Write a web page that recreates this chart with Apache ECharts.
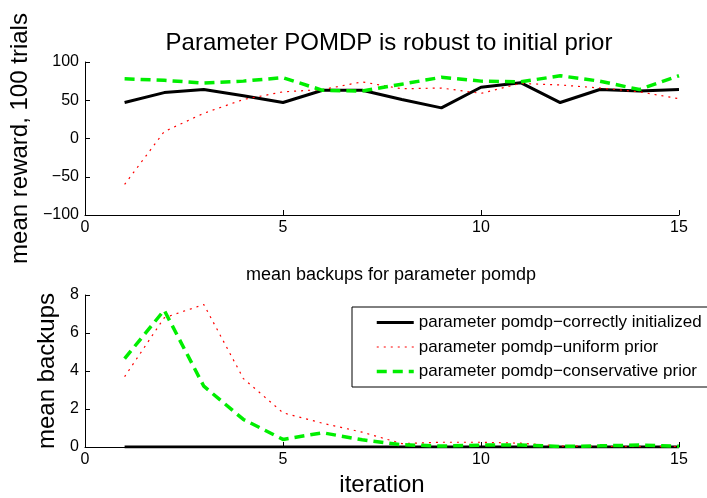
<!DOCTYPE html>
<html>
<head>
<meta charset="utf-8">
<script src="https://cdn.jsdelivr.net/npm/echarts@6/dist/echarts.min.js"></script>
<style>html,body{margin:0;padding:0;background:#fff}#c{width:707px;height:498px}</style>
</head>
<body>
<div id="c"></div>
<script>
const iterations = [1,2,3,4,5,6,7,8,9,10,11,12,13,14,15];
const seriesNames = ['parameter pomdp\u2212correctly initialized','parameter pomdp\u2212uniform prior','parameter pomdp\u2212conservative prior'];
const rewardCorrect = [47, 60, 64, 56, 47, 63, 63, 51, 40, 67, 73, 47, 64, 62, 64];
const rewardUniform = [-60, 9, 33, 51, 61, 64, 74, 65, 66, 59, 72, 70, 66, 61, 52];
const rewardConservative = [78, 76, 72.5, 75, 79.5, 63, 62, 71, 80, 75, 74, 82, 75, 64, 82];
const backupsCorrect = [0,0,0,0,0,0,0,0,0,0,0,0,0,0,0];
const backupsUniform = [3.7, 6.8, 7.5, 3.6, 1.8, 1.25, 0.78, 0.18, 0.25, 0.25, 0.2, 0.05, 0.03, 0.02, 0.02];
const backupsConservative = [4.65, 7.2, 3.2, 1.45, 0.4, 0.75, 0.38, 0.12, 0.05, 0.1, 0.1, 0.03, 0.06, 0.1, 0.04];

const FONT = "'Liberation Sans', Arial, sans-serif";
const pairs = (ys) => iterations.map((x, i) => [x, ys[i]]);
const minusFmt = (v) => String(v).replace('-', '\u2212');

const styles = [
  {color:'#000000', width:3, type:'solid'},
  {color:'#ff0000', width:1.2, type:[2,5]},
  {color:'#00ee00', width:3.5, type:[10,6]}
];

function xAxis(gi){
  return {
    type:'value', gridIndex:gi, min:0, max:15, interval:5,
    axisLine:{show:true, onZero:false, lineStyle:{color:'#000', width:1}},
    axisTick:{show:true, inside:true, length:5, lineStyle:{color:'#000'}},
    splitLine:{show:false},
    axisLabel:{color:'#000', fontSize:16, fontFamily:FONT, margin:5, formatter:minusFmt},
    name: gi === 1 ? 'iteration' : '',
    nameLocation:'middle', nameGap:26,
    nameTextStyle:{color:'#000', fontSize:24, fontFamily:FONT}
  };
}
function yAxis(gi, min, max, interval, name, gap){
  return {
    type:'value', gridIndex:gi, min:min, max:max, interval:interval,
    axisLine:{show:true, onZero:false, lineStyle:{color:'#000', width:1}},
    axisTick:{show:true, inside:true, length:5, lineStyle:{color:'#000'}},
    splitLine:{show:false},
    axisLabel:{color:'#000', fontSize:16, fontFamily:FONT, margin:6, formatter:minusFmt},
    name:name, nameLocation:'middle', nameGap:gap, nameRotate:90,
    nameTextStyle:{color:'#000', fontSize:24, fontFamily:FONT}
  };
}
function line(name, data, gi, st){
  return {
    type:'line', name:name, xAxisIndex:gi, yAxisIndex:gi, data:pairs(data),
    symbol:'none', silent:true, animation:false,
    lineStyle:{color:st.color, width:st.width, type:st.type},
    itemStyle:{color:st.color}
  };
}

const chart = echarts.init(document.getElementById('c'), null, {renderer:'canvas'});
chart.setOption({
  backgroundColor:'#fff',
  animation:false,
  title:[
    {text:'Parameter POMDP is robust to initial prior', left:384, top:26, textAlign:'center',
     textStyle:{color:'#000', fontSize:24, fontWeight:'normal', fontFamily:FONT}},
    {text:'mean backups for parameter pomdp', left:386, top:261, textAlign:'center',
     textStyle:{color:'#000', fontSize:18, fontWeight:'normal', fontFamily:FONT}}
  ],
  grid:[
    {left:85, right:28, top:62, height:153},
    {left:85, right:28, top:295, height:154}
  ],
  xAxis:[xAxis(0), xAxis(1)],
  yAxis:[
    yAxis(0, -100, 100, 50, 'mean reward, 100 trials', 53),
    yAxis(1, 0, 8, 2, 'mean backups', 24)
  ],
  legend:{
    orient:'vertical', left:352, top:307,
    data:seriesNames.map((n, i) => ({name:n, lineStyle:{width:styles[i].width, type:styles[i].type, color:styles[i].color}})),
    itemWidth:37, itemHeight:14, itemGap:7.5, padding:[7,24,7,23],
    borderColor:'#000', borderWidth:1, backgroundColor:'#fff',
    itemStyle:{opacity:0},
    textStyle:{color:'#000', fontSize:17, fontFamily:FONT},
    selectedMode:false
  },
  series:[
    line(seriesNames[0], rewardCorrect, 0, styles[0]),
    line(seriesNames[1], rewardUniform, 0, styles[1]),
    line(seriesNames[2], rewardConservative, 0, styles[2]),
    line(seriesNames[0], backupsCorrect, 1, styles[0]),
    line(seriesNames[1], backupsUniform, 1, styles[1]),
    line(seriesNames[2], backupsConservative, 1, styles[2])
  ]
});
</script>
</body>
</html>
